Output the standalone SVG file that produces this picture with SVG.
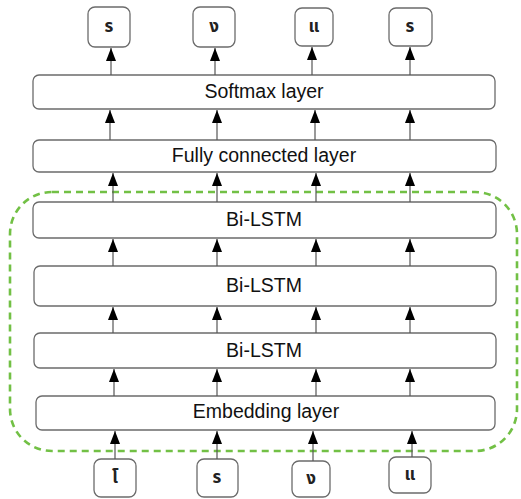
<svg xmlns="http://www.w3.org/2000/svg" width="521" height="499" viewBox="0 0 521 499">
  <style>
    .layer { fill: #ffffff; stroke: #6b6b6b; stroke-width: 1.3; }
    .tok { fill: #ffffff; stroke: #6b6b6b; stroke-width: 1.3; }
    .label { font-family: "Liberation Sans", Arial, sans-serif; font-size: 19.5px; fill: #111111; text-anchor: middle; dominant-baseline: central; }
    .thai { font-family: "Noto Sans Thai", "Noto Sans", "DejaVu Sans", sans-serif; font-size: 17px; font-weight: bold; fill: #222222; text-anchor: middle; dominant-baseline: central; }
    .edge { stroke: #555555; stroke-width: 1.2; fill: none; marker-end: url(#arrow); }
    .group { fill: none; stroke: #72c045; stroke-width: 2.6; stroke-dasharray: 7 5; }
  </style>
  <defs>
    <marker id="arrow" viewBox="0 0 13 10" refX="13" refY="5" markerWidth="13" markerHeight="10" markerUnits="userSpaceOnUse" orient="auto">
      <path d="M0,0 L13,5 L0,10 Z" fill="#000000"/>
    </marker>
  </defs>

  <rect width="521" height="499" fill="#ffffff"/>

  <!-- dashed boundary around the encoder layers -->
  <rect id="encoder-group" class="group" x="10" y="192" width="507" height="259" rx="42" ry="42"/>

  <!-- output tokens -->
  <g id="out1"><rect class="tok" x="88" y="7" width="42" height="40" rx="7"/><text class="thai" x="109" y="27">ร</text></g>
  <g id="out2"><rect class="tok" x="193" y="7" width="42" height="40" rx="7"/><text class="thai" x="214" y="27">ง</text></g>
  <g id="out3"><rect class="tok" x="295" y="8" width="38" height="38" rx="7"/><text class="thai" x="314" y="27">แ</text></g>
  <g id="out4"><rect class="tok" x="389" y="8" width="43" height="38" rx="7"/><text class="thai" x="410" y="27">ร</text></g>

  <!-- layers -->
  <g id="softmax"><rect class="layer" x="33" y="75" width="462" height="34" rx="6"/><text class="label" x="264" y="91">Softmax layer</text></g>
  <g id="fc"><rect class="layer" x="33" y="140" width="463" height="32" rx="6"/><text class="label" x="264" y="155">Fully connected layer</text></g>
  <g id="bilstm1"><rect class="layer" x="33" y="202" width="463" height="36" rx="6"/><text class="label" x="264" y="219">Bi-LSTM</text></g>
  <g id="bilstm2"><rect class="layer" x="34" y="266" width="462" height="40" rx="6"/><text class="label" x="264" y="285">Bi-LSTM</text></g>
  <g id="bilstm3"><rect class="layer" x="34" y="333" width="462" height="35" rx="6"/><text class="label" x="264" y="350">Bi-LSTM</text></g>
  <g id="embedding"><rect class="layer" x="36" y="396" width="459" height="34" rx="6"/><text class="label" x="266" y="411">Embedding layer</text></g>

  <!-- input tokens -->
  <g id="in1"><rect class="tok" x="94" y="459" width="42" height="38" rx="7"/><text class="thai" x="115" y="478">โ</text></g>
  <g id="in2"><rect class="tok" x="197" y="459" width="41" height="38" rx="7"/><text class="thai" x="217" y="478">ร</text></g>
  <g id="in3"><rect class="tok" x="292" y="461" width="38" height="36" rx="7"/><text class="thai" x="311" y="479">ง</text></g>
  <g id="in4"><rect class="tok" x="389" y="457" width="42" height="36" rx="7"/><text class="thai" x="410" y="475">แ</text></g>

  <!-- connectors -->
  <g id="connectors">
    <!-- softmax -> outputs -->
    <line class="edge" x1="111" y1="75" x2="111" y2="48"/>
    <line class="edge" x1="215" y1="75" x2="215" y2="48"/>
    <line class="edge" x1="312" y1="75" x2="312" y2="47"/>
    <line class="edge" x1="410" y1="75" x2="410" y2="47"/>
    <!-- fc -> softmax -->
    <line class="edge" x1="110" y1="140" x2="110" y2="110"/>
    <line class="edge" x1="217" y1="140" x2="217" y2="110"/>
    <line class="edge" x1="315" y1="140" x2="315" y2="110"/>
    <line class="edge" x1="410" y1="140" x2="410" y2="110"/>
    <!-- bilstm1 -> fc -->
    <line class="edge" x1="113" y1="202" x2="113" y2="173"/>
    <line class="edge" x1="217" y1="202" x2="217" y2="173"/>
    <line class="edge" x1="316" y1="202" x2="316" y2="173"/>
    <line class="edge" x1="410" y1="202" x2="410" y2="173"/>
    <!-- bilstm2 -> bilstm1 -->
    <line class="edge" x1="113" y1="266" x2="113" y2="239"/>
    <line class="edge" x1="217" y1="266" x2="217" y2="239"/>
    <line class="edge" x1="316" y1="266" x2="316" y2="239"/>
    <line class="edge" x1="410" y1="266" x2="410" y2="239"/>
    <!-- bilstm3 -> bilstm2 -->
    <line class="edge" x1="113" y1="333" x2="113" y2="307"/>
    <line class="edge" x1="217" y1="333" x2="217" y2="307"/>
    <line class="edge" x1="316" y1="333" x2="316" y2="307"/>
    <line class="edge" x1="410" y1="333" x2="410" y2="307"/>
    <!-- embedding -> bilstm3 -->
    <line class="edge" x1="114" y1="396" x2="114" y2="369"/>
    <line class="edge" x1="217" y1="396" x2="217" y2="369"/>
    <line class="edge" x1="316" y1="396" x2="316" y2="369"/>
    <line class="edge" x1="410" y1="396" x2="410" y2="369"/>
    <!-- inputs -> embedding -->
    <line class="edge" x1="115" y1="459" x2="115" y2="431"/>
    <line class="edge" x1="217" y1="459" x2="217" y2="431"/>
    <line class="edge" x1="313" y1="461" x2="313" y2="431"/>
    <line class="edge" x1="412" y1="457" x2="412" y2="431"/>
  </g>
</svg>
